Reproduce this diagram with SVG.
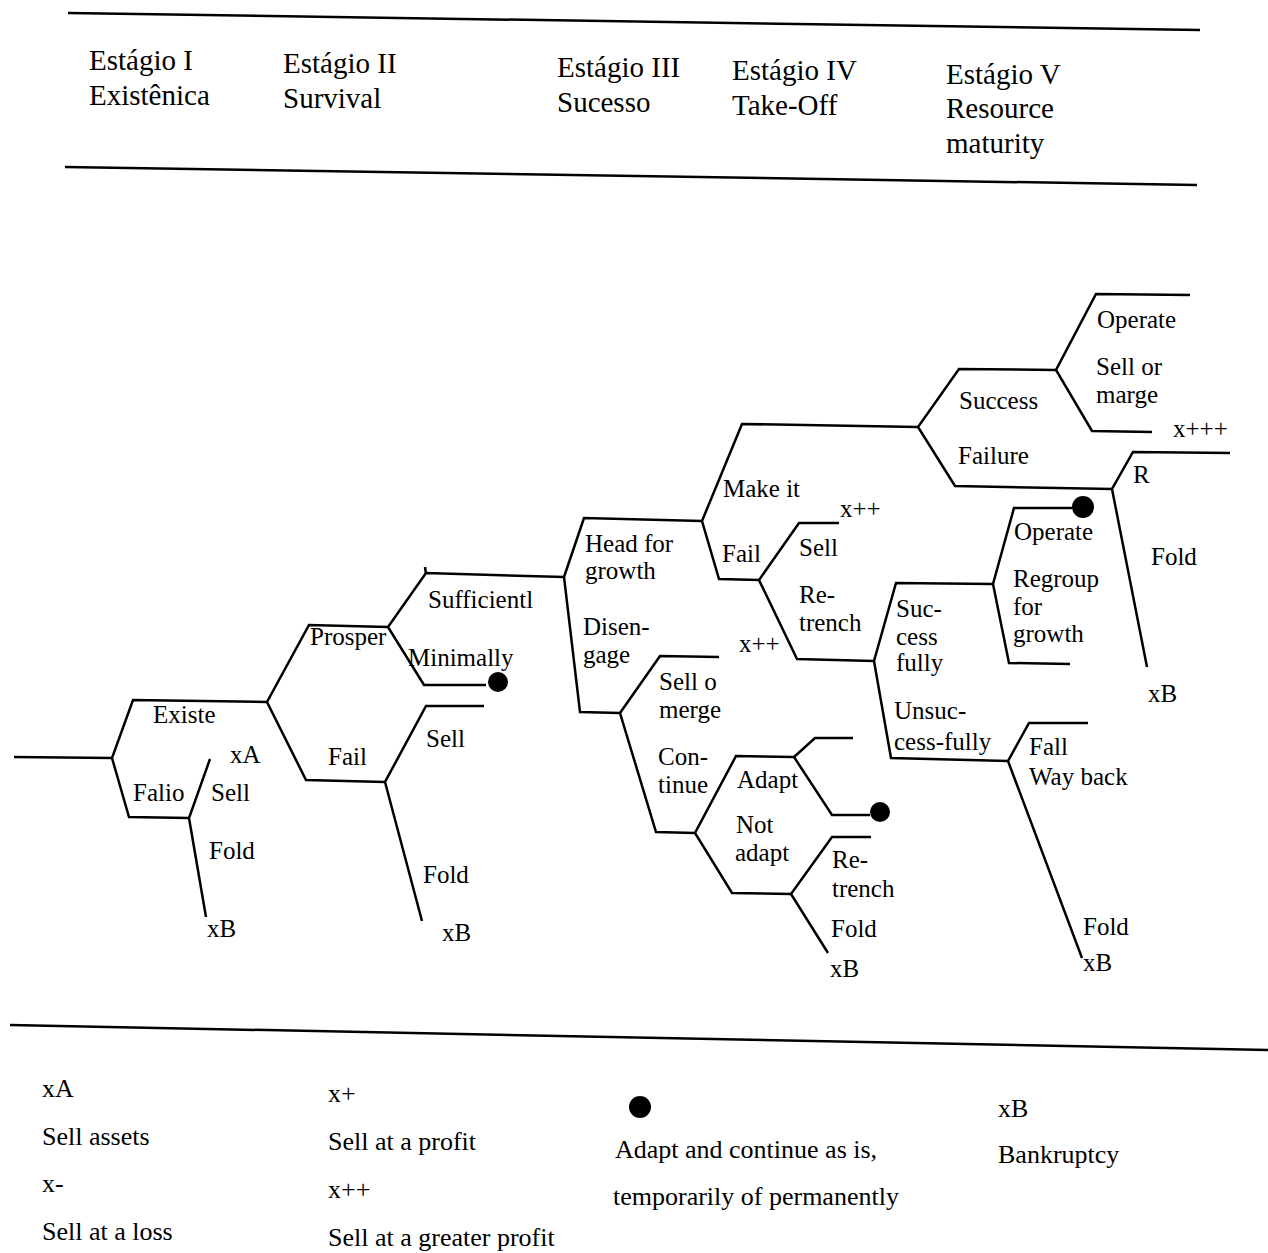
<svg xmlns="http://www.w3.org/2000/svg" width="1268" height="1253" viewBox="0 0 1268 1253">
<style>
.ln{fill:none;stroke:#000;stroke-width:2.5;stroke-linejoin:miter;stroke-linecap:butt}
.t{font-family:"Liberation Serif","Times New Roman",serif;font-size:25px;fill:#000}
.h{font-size:29px}
.lg{font-size:26px}
.dot{fill:#000}
</style>
<rect width="1268" height="1253" fill="#fff"/>
<g id="header">
<path class="ln" d="M68,13 L1200,30"/>
<path class="ln" d="M65,167 L1197,185"/>
<text class="t h" x="89" y="70">Estágio I</text>
<text class="t h" x="89" y="105">Existênica</text>
<text class="t h" x="283" y="73">Estágio II</text>
<text class="t h" x="283" y="108">Survival</text>
<text class="t h" x="557" y="77">Estágio III</text>
<text class="t h" x="557" y="112">Sucesso</text>
<text class="t h" x="732" y="80">Estágio IV</text>
<text class="t h" x="732" y="115">Take-Off</text>
<text class="t h" x="946" y="84">Estágio V</text>
<text class="t h" x="946" y="118">Resource</text>
<text class="t h" x="946" y="153">maturity</text>
</g>
<g id="connectors">
<path class="ln" d="M14,757 L112,758"/>
<path class="ln" d="M268,702 L133,700 L112,758 L129,817 L189,818"/>
<path class="ln" d="M210,759 L189,818 L206,917"/>
<path class="ln" d="M388,627 L309,625 L267,702 L306,780 L385,782"/>
<path class="ln" d="M564,577 L426,573 L388,627 L424,685 L486,685"/>
<path class="ln" d="M426,574 L425,567"/>
<path class="ln" d="M484,706 L426,706 L385,782 L422,921"/>
<path class="ln" d="M702,521 L584,518 L564,577 L580,712 L620,713"/>
<path class="ln" d="M918,427 L742,424 L702,521 L719,579 L759,580"/>
<path class="ln" d="M839,523 L799,523 L759,580 L797,659 L874,661"/>
<path class="ln" d="M993,584 L896,583 L874,661 L891,758 L1008,761"/>
<path class="ln" d="M1072,508 L1014,508 L993,584 L1009,663 L1070,664"/>
<path class="ln" d="M1088,723 L1029,723 L1008,761 L1082,958"/>
<path class="ln" d="M1056,370 L959,369 L918,427 L955,486 L1112,489"/>
<path class="ln" d="M1190,295 L1096,294 L1056,370 L1092,431 L1152,432"/>
<path class="ln" d="M1230,453 L1133,452 L1112,489 L1147,667"/>
<path class="ln" d="M719,657 L660,656 L620,713 L656,832 L695,833"/>
<path class="ln" d="M794,757 L736,756 L695,833 L732,893 L791,894"/>
<path class="ln" d="M853,738 L815,738 L794,757 L832,815 L870,815"/>
<path class="ln" d="M871,837 L832,837 L791,894 L828,953"/>
<circle class="dot" cx="498" cy="682" r="10"/>
<circle class="dot" cx="880" cy="812" r="10"/>
<circle class="dot" cx="1083" cy="507" r="11"/>
</g>
<g id="stage1">
<text class="t" x="153" y="723">Existe</text>
<text class="t" x="230" y="763">xA</text>
<text class="t" x="133" y="801">Falio</text>
<text class="t" x="211" y="801">Sell</text>
<text class="t" x="209" y="859">Fold</text>
<text class="t" x="207" y="937">xB</text>
</g>
<g id="stage2">
<text class="t" x="310" y="645">Prosper</text>
<text class="t" x="428" y="608">Sufficientl</text>
<text class="t" x="408" y="666">Minimally</text>
<text class="t" x="328" y="765">Fail</text>
<text class="t" x="426" y="747">Sell</text>
<text class="t" x="423" y="883">Fold</text>
<text class="t" x="442" y="941">xB</text>
</g>
<g id="stage3">
<text class="t" x="585" y="552">Head for</text>
<text class="t" x="585" y="579">growth</text>
<text class="t" x="583" y="635">Disen-</text>
<text class="t" x="583" y="663">gage</text>
<text class="t" x="659" y="690">Sell o</text>
<text class="t" x="659" y="718">merge</text>
<text class="t" x="658" y="765">Con-</text>
<text class="t" x="658" y="793">tinue</text>
<text class="t" x="737" y="788">Adapt</text>
<text class="t" x="736" y="833">Not</text>
<text class="t" x="735" y="861">adapt</text>
<text class="t" x="832" y="868">Re-</text>
<text class="t" x="832" y="897">trench</text>
<text class="t" x="831" y="937">Fold</text>
<text class="t" x="830" y="977">xB</text>
</g>
<g id="stage4">
<text class="t" x="723" y="497">Make it</text>
<text class="t" x="840" y="517">x++</text>
<text class="t" x="722" y="562">Fail</text>
<text class="t" x="799" y="556">Sell</text>
<text class="t" x="799" y="603">Re-</text>
<text class="t" x="799" y="631">trench</text>
<text class="t" x="739" y="652">x++</text>
<text class="t" x="896" y="617">Suc-</text>
<text class="t" x="896" y="645">cess</text>
<text class="t" x="896" y="671">fully</text>
<text class="t" x="894" y="719">Unsuc-</text>
<text class="t" x="894" y="750">cess-fully</text>
<text class="t" x="1029" y="755">Fall</text>
<text class="t" x="1029" y="785">Way back</text>
<text class="t" x="1083" y="935">Fold</text>
<text class="t" x="1083" y="971">xB</text>
<text class="t" x="1014" y="540">Operate</text>
<text class="t" x="1013" y="587">Regroup</text>
<text class="t" x="1013" y="615">for</text>
<text class="t" x="1013" y="642">growth</text>
</g>
<g id="stage5">
<text class="t" x="959" y="409">Success</text>
<text class="t" x="958" y="464">Failure</text>
<text class="t" x="1097" y="328">Operate</text>
<text class="t" x="1096" y="375">Sell or</text>
<text class="t" x="1096" y="403">marge</text>
<text class="t" x="1173" y="437">x+++</text>
<text class="t" x="1133" y="483">R</text>
<text class="t" x="1151" y="565">Fold</text>
<text class="t" x="1148" y="702">xB</text>
</g>
<g id="legend">
<path class="ln" d="M10,1025 L1268,1050"/>
<text class="t lg" x="42" y="1097">xA</text>
<text class="t lg" x="42" y="1145">Sell assets</text>
<text class="t lg" x="42" y="1192">x-</text>
<text class="t lg" x="42" y="1240">Sell at a loss</text>
<text class="t lg" x="328" y="1102">x+</text>
<text class="t lg" x="328" y="1150">Sell at a profit</text>
<text class="t lg" x="328" y="1198">x++</text>
<text class="t lg" x="328" y="1246">Sell at a greater profit</text>
<circle class="dot" cx="640" cy="1107" r="11"/>
<text class="t lg" x="615" y="1158">Adapt and continue as is,</text>
<text class="t lg" x="613" y="1205">temporarily of permanently</text>
<text class="t lg" x="998" y="1117">xB</text>
<text class="t lg" x="998" y="1163">Bankruptcy</text>
</g>
</svg>
